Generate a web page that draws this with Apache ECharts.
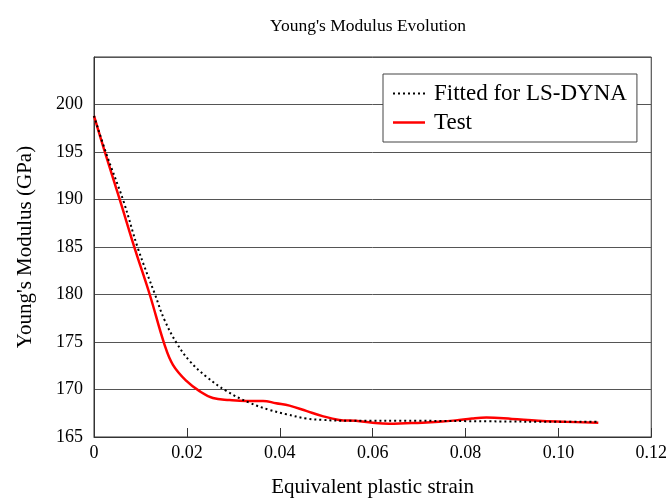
<!DOCTYPE html>
<html>
<head>
<meta charset="utf-8">
<script src="https://cdn.jsdelivr.net/npm/echarts@6/dist/echarts.min.js"></script>
<style>
html,body{margin:0;padding:0;background:#fff;}
#chart{width:670px;height:503px;}
</style>
</head>
<body>
<div id="chart"></div>
<script>
var chartTitle = "Young's Modulus Evolution";
var xAxisTitle = "Equivalent plastic strain";
var yAxisTitle = "Young's Modulus (GPa)";
var seriesNames = ["Fitted for LS-DYNA", "Test"];
var xTickLabels = ["0", "0.02", "0.04", "0.06", "0.08", "0.10", "0.12"];
var yTickLabels = ["165", "170", "175", "180", "185", "190", "195", "200", ""];

var fittedStrain  = [0, 0.0027, 0.0063, 0.0095, 0.0131, 0.0152, 0.0179, 0.0206, 0.0242, 0.0285, 0.0335, 0.0378, 0.0414, 0.0457, 0.0492, 0.055, 0.07, 0.085, 0.1, 0.1086];
var fittedModulus = [198.8, 194.75, 189.9, 184.8, 180.05, 177.3, 174.8, 173.0, 171.35, 169.85, 168.6, 167.85, 167.4, 166.95, 166.8, 166.7, 166.7, 166.65, 166.6, 166.6];

var testStrain  = [0, 0.0024, 0.0056, 0.0088, 0.012, 0.0152, 0.017, 0.0199, 0.0228, 0.0256, 0.0292, 0.0328, 0.0364, 0.0392, 0.0421, 0.0457, 0.0492, 0.0528, 0.0564, 0.06, 0.0635, 0.0671, 0.0707, 0.0743, 0.0779, 0.0814, 0.0845, 0.09, 0.0957, 0.1015, 0.1086];
var testModulus = [198.8, 194.9, 189.9, 184.8, 180.0, 174.7, 172.6, 170.9, 169.8, 169.1, 168.9, 168.8, 168.8, 168.55, 168.3, 167.75, 167.2, 166.8, 166.7, 166.5, 166.4, 166.45, 166.5, 166.6, 166.75, 166.95, 167.05, 166.9, 166.7, 166.6, 166.5];

function pairs(xs, ys) { return xs.map(function (x, i) { return [x, ys[i]]; }); }

var FONT = "Liberation Serif";
var dottedIcon = 'path://M0,0h2v2h-2zM5,0h2v2h-2zM10,0h2v2h-2zM15,0h2v2h-2zM20,0h2v2h-2zM25,0h2v2h-2zM30,0h2v2h-2z';
var solidIcon = 'path://M0,0h32v2.5h-32z';

var chart = echarts.init(document.getElementById('chart'), null, {renderer: 'canvas'});
chart.setOption({
  backgroundColor: '#fff',
  animation: false,
  title: {
    text: chartTitle,
    left: 363, top: 12, textAlign: 'center',
    textStyle: {fontFamily: FONT, fontSize: 17.5, fontWeight: 'normal', color: '#000'}
  },
  grid: {left: 94, top: 57, right: 17, bottom: 65, show: true, borderColor: '#333', borderWidth: 1, backgroundColor: 'transparent'},
  legend: {
    orient: 'vertical',
    left: 383, top: 74,
    padding: [8, 10, 8, 10],
    itemGap: 6,
    itemWidth: 32, itemHeight: 2.5,
    backgroundColor: '#fff',
    borderColor: '#444', borderWidth: 1, borderRadius: 0,
    textStyle: {fontFamily: FONT, fontSize: 23, color: '#000', lineHeight: 22, padding: [0, 0, 0, 4]},
    data: [
      {name: seriesNames[0], icon: dottedIcon, itemStyle: {color: '#000'}},
      {name: seriesNames[1], icon: solidIcon, itemStyle: {color: '#ff0000'}}
    ]
  },
  xAxis: {
    type: 'value', min: 0, max: 0.12, interval: 0.02,
    name: xAxisTitle, nameLocation: 'middle', nameGap: 40,
    nameTextStyle: {fontFamily: FONT, fontSize: 21, color: '#000'},
    axisLine: {show: true, lineStyle: {color: '#333', width: 1}},
    axisTick: {show: true, inside: true, length: 9, lineStyle: {color: '#333'}},
    axisLabel: {
      margin: 7, fontFamily: FONT, fontSize: 18, color: '#000',
      formatter: function (v) { return xTickLabels[Math.round(v / 0.02)]; }
    },
    splitLine: {show: false}
  },
  yAxis: {
    type: 'value', min: 165, max: 205, interval: 5,
    name: yAxisTitle, nameLocation: 'middle', nameGap: 58,
    nameTextStyle: {fontFamily: FONT, fontSize: 21, color: '#000'},
    axisLine: {show: true, lineStyle: {color: '#333', width: 1}},
    axisTick: {show: false},
    axisLabel: {
      margin: 11, fontFamily: FONT, fontSize: 18, color: '#000',
      formatter: function (v) { return yTickLabels[Math.round((v - 165) / 5)]; }
    },
    splitLine: {show: true, lineStyle: {color: '#555', width: 1}}
  },
  series: [
    {
      name: seriesNames[0], type: 'line', data: pairs(fittedStrain, fittedModulus),
      smooth: 0.4, symbol: 'none', showSymbol: false,
      itemStyle: {color: '#000'},
      lineStyle: {color: '#000', width: 2, type: [2, 3]},
      z: 3
    },
    {
      name: seriesNames[1], type: 'line', data: pairs(testStrain, testModulus),
      smooth: 0.4, symbol: 'none', showSymbol: false,
      itemStyle: {color: '#ff0000'},
      lineStyle: {color: '#ff0000', width: 2.5},
      z: 2
    }
  ]
});
</script>
</body>
</html>
